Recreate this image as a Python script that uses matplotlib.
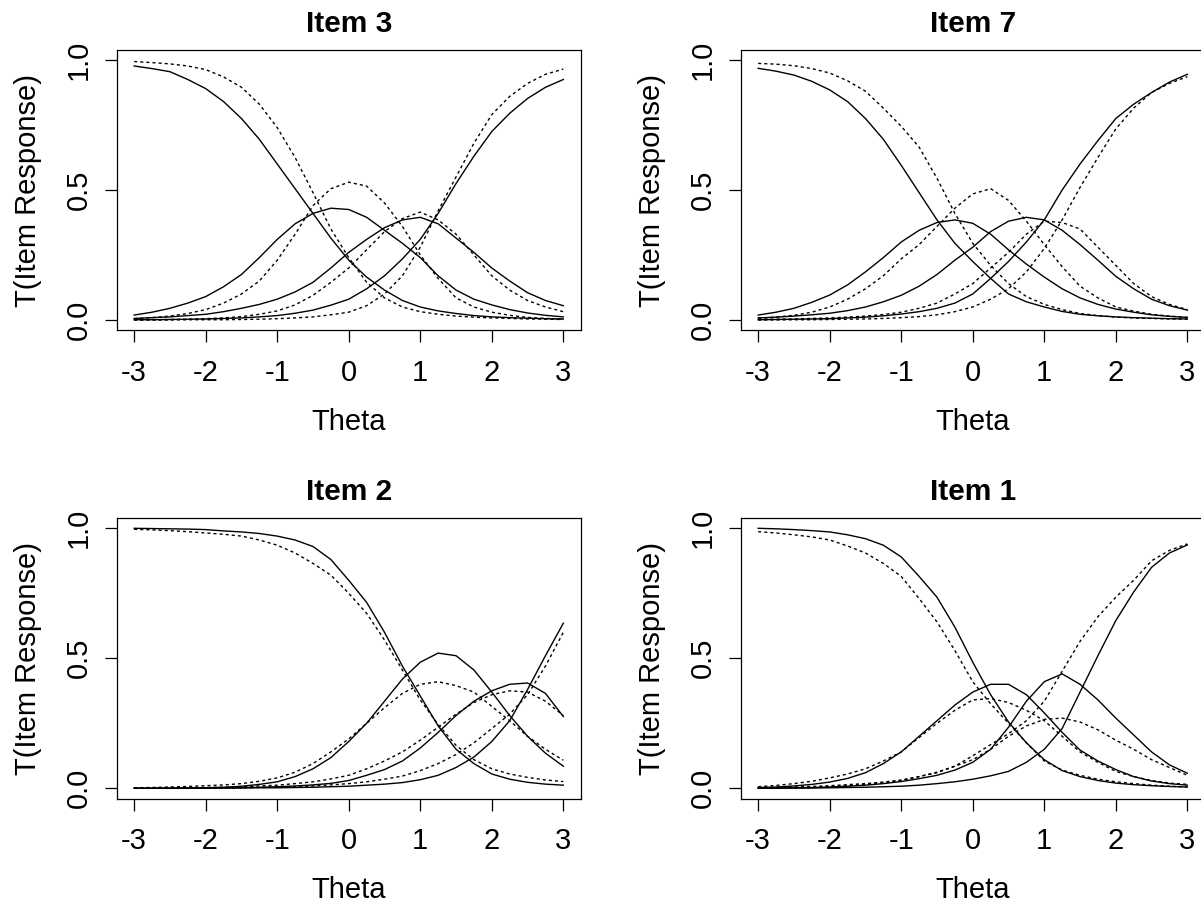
import numpy as np
import matplotlib
matplotlib.use("Agg")
import matplotlib.pyplot as plt

plt.rcParams['font.family'] = ['Liberation Sans', 'DejaVu Sans']

# theta grid (x values at which the curves were read)
theta = np.linspace(-3, 3, 25)

# ---------------- Item 3 ----------------
item3_solid_c0 = [0.977, 0.967, 0.955, 0.925, 0.89, 0.84, 0.775, 0.695, 0.6, 0.505, 0.41, 0.315, 0.23,
                  0.165, 0.115, 0.075, 0.05, 0.035, 0.025, 0.017, 0.012, 0.009, 0.007, 0.005, 0.004]
item3_solid_c1 = [0.019, 0.03, 0.045, 0.065, 0.09, 0.128, 0.175, 0.24, 0.31, 0.37, 0.41, 0.43, 0.425,
                  0.395, 0.345, 0.295, 0.24, 0.17, 0.115, 0.08, 0.058, 0.04, 0.027, 0.018, 0.012]
item3_solid_c2 = [0.006, 0.009, 0.012, 0.017, 0.022, 0.032, 0.045, 0.06, 0.08, 0.108, 0.145, 0.2, 0.26,
                  0.31, 0.355, 0.385, 0.395, 0.37, 0.315, 0.26, 0.2, 0.15, 0.105, 0.075, 0.055]
item3_solid_c3 = [0.001, 0.001, 0.002, 0.003, 0.004, 0.006, 0.008, 0.012, 0.017, 0.026, 0.038, 0.057, 0.08,
                  0.12, 0.17, 0.235, 0.31, 0.41, 0.525, 0.63, 0.725, 0.795, 0.852, 0.895, 0.925]
item3_dot_c0 = [0.994, 0.99, 0.985, 0.977, 0.963, 0.935, 0.895, 0.83, 0.74, 0.625, 0.49, 0.35, 0.24,
                0.145, 0.085, 0.05, 0.032, 0.022, 0.015, 0.011, 0.008, 0.006, 0.004, 0.003, 0.002]
item3_dot_c1 = [0.005, 0.009, 0.015, 0.025, 0.04, 0.065, 0.1, 0.15, 0.23, 0.33, 0.44, 0.505, 0.53,
                0.515, 0.45, 0.36, 0.25, 0.16, 0.085, 0.05, 0.03, 0.018, 0.01, 0.006, 0.004]
item3_dot_c2 = [0.001, 0.001, 0.002, 0.003, 0.005, 0.008, 0.013, 0.022, 0.035, 0.058, 0.095, 0.145, 0.2,
                0.27, 0.34, 0.39, 0.415, 0.385, 0.33, 0.25, 0.17, 0.115, 0.075, 0.05, 0.032]
item3_dot_c3 = [0.0, 0.0, 0.0, 0.001, 0.001, 0.001, 0.002, 0.003, 0.005, 0.008, 0.012, 0.02, 0.03,
                0.055, 0.1, 0.17, 0.28, 0.42, 0.55, 0.68, 0.79, 0.86, 0.91, 0.945, 0.965]

# ---------------- Item 7 ----------------
item7_solid_c0 = [0.968, 0.957, 0.942, 0.918, 0.885, 0.84, 0.775, 0.695, 0.595, 0.49, 0.385, 0.295, 0.225,
                  0.16, 0.1, 0.07, 0.05, 0.033, 0.022, 0.016, 0.012, 0.009, 0.007, 0.005, 0.004]
item7_solid_c1 = [0.019, 0.03, 0.045, 0.068, 0.096, 0.135, 0.185, 0.24, 0.3, 0.345, 0.375, 0.385, 0.372,
                  0.33, 0.27, 0.215, 0.165, 0.12, 0.085, 0.06, 0.042, 0.03, 0.02, 0.014, 0.01]
item7_solid_c2 = [0.008, 0.011, 0.015, 0.02, 0.026, 0.036, 0.05, 0.07, 0.095, 0.13, 0.175, 0.23, 0.28,
                  0.34, 0.38, 0.395, 0.385, 0.345, 0.29, 0.23, 0.168, 0.12, 0.08, 0.055, 0.038]
item7_solid_c3 = [0.001, 0.002, 0.003, 0.004, 0.005, 0.008, 0.011, 0.016, 0.023, 0.032, 0.045, 0.065, 0.1,
                  0.16, 0.225, 0.3, 0.385, 0.5, 0.6, 0.69, 0.775, 0.83, 0.875, 0.915, 0.945]
item7_dot_c0 = [0.987, 0.984, 0.978, 0.967, 0.95, 0.92, 0.88, 0.815, 0.745, 0.665, 0.545, 0.41, 0.295,
                0.21, 0.14, 0.09, 0.06, 0.04, 0.025, 0.017, 0.011, 0.008, 0.006, 0.004, 0.003]
item7_dot_c1 = [0.006, 0.011, 0.018, 0.03, 0.05, 0.08, 0.12, 0.17, 0.235, 0.29, 0.36, 0.43, 0.485,
                0.505, 0.46, 0.38, 0.29, 0.205, 0.13, 0.085, 0.05, 0.034, 0.022, 0.015, 0.01]
item7_dot_c2 = [0.002, 0.003, 0.004, 0.006, 0.008, 0.011, 0.015, 0.021, 0.03, 0.045, 0.065, 0.1, 0.14,
                0.2, 0.26, 0.33, 0.38, 0.375, 0.35, 0.28, 0.21, 0.14, 0.09, 0.06, 0.04]
item7_dot_c3 = [0.0, 0.0, 0.001, 0.001, 0.002, 0.003, 0.004, 0.006, 0.009, 0.013, 0.02, 0.032, 0.05,
                0.08, 0.12, 0.185, 0.275, 0.385, 0.51, 0.625, 0.735, 0.815, 0.875, 0.91, 0.936]

# ---------------- Item 2 ----------------
item2_solid_c0 = [1.0, 0.999, 0.998, 0.997, 0.995, 0.99, 0.986, 0.98, 0.97, 0.955, 0.93, 0.88, 0.8,
                  0.715, 0.6, 0.47, 0.355, 0.24, 0.15, 0.095, 0.055, 0.035, 0.023, 0.016, 0.012]
item2_solid_c1 = [0.0, 0.0, 0.001, 0.001, 0.002, 0.004, 0.008, 0.015, 0.025, 0.045, 0.075, 0.118, 0.18,
                  0.25, 0.335, 0.42, 0.485, 0.52, 0.51, 0.455, 0.37, 0.28, 0.2, 0.135, 0.085]
item2_solid_c2 = [0.0, 0.0, 0.0, 0.001, 0.001, 0.002, 0.003, 0.004, 0.006, 0.009, 0.013, 0.019, 0.03,
                  0.05, 0.072, 0.105, 0.155, 0.215, 0.28, 0.335, 0.375, 0.4, 0.405, 0.365, 0.276]
item2_solid_c3 = [0.0, 0.0, 0.0, 0.0, 0.001, 0.001, 0.001, 0.002, 0.002, 0.003, 0.004, 0.006, 0.008,
                  0.012, 0.016, 0.022, 0.033, 0.05, 0.08, 0.12, 0.18, 0.26, 0.38, 0.51, 0.635]
item2_dot_c0 = [0.996, 0.994, 0.991, 0.987, 0.982, 0.977, 0.97, 0.955, 0.935, 0.905, 0.865, 0.82, 0.75,
                0.673, 0.57, 0.455, 0.34, 0.245, 0.165, 0.11, 0.075, 0.055, 0.042, 0.032, 0.026]
item2_dot_c1 = [0.002, 0.003, 0.005, 0.007, 0.01, 0.013, 0.018, 0.027, 0.04, 0.062, 0.095, 0.14, 0.19,
                0.25, 0.31, 0.365, 0.4, 0.41, 0.395, 0.37, 0.315, 0.26, 0.2, 0.15, 0.108]
item2_dot_c2 = [0.0, 0.0, 0.001, 0.002, 0.003, 0.004, 0.006, 0.009, 0.012, 0.018, 0.025, 0.036, 0.05,
                0.075, 0.105, 0.14, 0.185, 0.235, 0.285, 0.33, 0.36, 0.375, 0.37, 0.335, 0.28]
item2_dot_c3 = [0.0, 0.0, 0.0, 0.001, 0.001, 0.001, 0.002, 0.003, 0.004, 0.006, 0.009, 0.013, 0.018,
                0.025, 0.035, 0.047, 0.068, 0.095, 0.13, 0.175, 0.23, 0.285, 0.36, 0.47, 0.6]

# ---------------- Item 1 ----------------
item1_solid_c0 = [1.0, 0.998, 0.995, 0.991, 0.986, 0.975, 0.96, 0.935, 0.89, 0.815, 0.735, 0.62, 0.485,
                  0.36, 0.255, 0.175, 0.11, 0.068, 0.045, 0.03, 0.02, 0.014, 0.01, 0.007, 0.005]
item1_solid_c1 = [0.003, 0.005, 0.009, 0.015, 0.024, 0.038, 0.06, 0.095, 0.14, 0.2, 0.26, 0.32, 0.37,
                  0.4, 0.4, 0.36, 0.29, 0.215, 0.147, 0.105, 0.072, 0.045, 0.028, 0.018, 0.012]
item1_solid_c2 = [0.0, 0.001, 0.002, 0.003, 0.005, 0.008, 0.012, 0.018, 0.026, 0.037, 0.05, 0.07, 0.1,
                  0.15, 0.235, 0.335, 0.41, 0.44, 0.4, 0.34, 0.27, 0.205, 0.14, 0.09, 0.058]
item1_solid_c3 = [0.0, 0.0, 0.001, 0.001, 0.002, 0.003, 0.004, 0.006, 0.008, 0.012, 0.018, 0.025, 0.035,
                  0.048, 0.065, 0.1, 0.15, 0.23, 0.37, 0.51, 0.645, 0.755, 0.85, 0.905, 0.936]
item1_dot_c0 = [0.987, 0.982, 0.975, 0.967, 0.955, 0.932, 0.905, 0.865, 0.815, 0.73, 0.64, 0.53, 0.41,
                0.325, 0.25, 0.175, 0.105, 0.07, 0.05, 0.035, 0.025, 0.018, 0.012, 0.008, 0.005]
item1_dot_c1 = [0.006, 0.011, 0.018, 0.027, 0.04, 0.055, 0.075, 0.105, 0.14, 0.195, 0.25, 0.3, 0.34,
                0.345, 0.33, 0.3, 0.26, 0.2, 0.14, 0.1, 0.065, 0.045, 0.03, 0.02, 0.015]
item1_dot_c2 = [0.002, 0.003, 0.005, 0.007, 0.01, 0.014, 0.018, 0.024, 0.032, 0.045, 0.062, 0.085, 0.11,
                0.15, 0.2, 0.24, 0.265, 0.27, 0.255, 0.225, 0.185, 0.15, 0.11, 0.08, 0.05]
item1_dot_c3 = [0.0, 0.001, 0.002, 0.003, 0.006, 0.01, 0.015, 0.021, 0.03, 0.045, 0.06, 0.085, 0.125,
                0.168, 0.21, 0.26, 0.335, 0.45, 0.565, 0.66, 0.735, 0.8, 0.875, 0.915, 0.94]

panel_titles = ["Item 3", "Item 7", "Item 2", "Item 1"]
x_ticks = [-3, -2, -1, 0, 1, 2, 3]
y_ticks = [0.0, 0.5, 1.0]
y_ticklabels = ["0.0", "0.5", "1.0"]
x_label = "Theta"
y_label = "T(Item Response)"

panels = [
    ([item3_solid_c0, item3_solid_c1, item3_solid_c2, item3_solid_c3],
     [item3_dot_c0, item3_dot_c1, item3_dot_c2, item3_dot_c3]),
    ([item7_solid_c0, item7_solid_c1, item7_solid_c2, item7_solid_c3],
     [item7_dot_c0, item7_dot_c1, item7_dot_c2, item7_dot_c3]),
    ([item2_solid_c0, item2_solid_c1, item2_solid_c2, item2_solid_c3],
     [item2_dot_c0, item2_dot_c1, item2_dot_c2, item2_dot_c3]),
    ([item1_solid_c0, item1_solid_c1, item1_solid_c2, item1_solid_c3],
     [item1_dot_c0, item1_dot_c1, item1_dot_c2, item1_dot_c3]),
]

W, H = 1201, 907
fig = plt.figure(figsize=(W / 100, H / 100), dpi=100)
fig.patch.set_facecolor("white")

# axes boxes in pixels: (left, top, right, bottom)
boxes = [(117, 49.6, 580.5, 330.4), (741, 49.6, 1204.5, 330.4),
         (117, 517.9, 580.5, 798.7), (741, 517.9, 1204.5, 798.7)]

FS = 21
for (l, t, r, b), title, (solid, dotted) in zip(boxes, panel_titles, panels):
    ax = fig.add_axes([l / W, 1 - b / H, (r - l) / W, (b - t) / H])
    for ys in solid:
        ax.plot(theta, ys, color="black", lw=1.0, ls="-")
    for ys in dotted:
        ax.plot(theta, ys, color="black", lw=1.0, ls=(0, (2.2, 2.2)))
    ax.set_xlim(-3.24, 3.24)
    ax.set_ylim(-0.04, 1.04)
    ax.set_xticks(x_ticks)
    ax.set_xticklabels([str(v) for v in x_ticks])
    ax.set_yticks(y_ticks)
    ax.set_yticklabels(y_ticklabels, rotation=90, va="center")
    ax.tick_params(axis="both", direction="out", length=8.5, width=0.9,
                   labelsize=FS, color="black")
    ax.tick_params(axis="x", pad=12)
    ax.tick_params(axis="y", pad=9)
    for sp in ax.spines.values():
        sp.set_linewidth(0.9)
    hbox = b - t
    wbox = r - l
    ax.text(0.5, 1 + 25.6 / hbox, title, transform=ax.transAxes,
            ha="center", va="center", fontsize=FS + 0.5, fontweight="bold")
    ax.set_xlabel(x_label, fontsize=FS)
    ax.xaxis.set_label_coords(0.5, -91.1 / hbox)
    ax.xaxis.label.set_va("center")
    ax.set_ylabel(y_label, fontsize=FS)
    ax.yaxis.set_label_coords(-(l - (28 if l < 600 else 652)) / wbox, 0.5)
    ax.yaxis.label.set_va("center")

fig.savefig("out.png", dpi=100, facecolor="white")
